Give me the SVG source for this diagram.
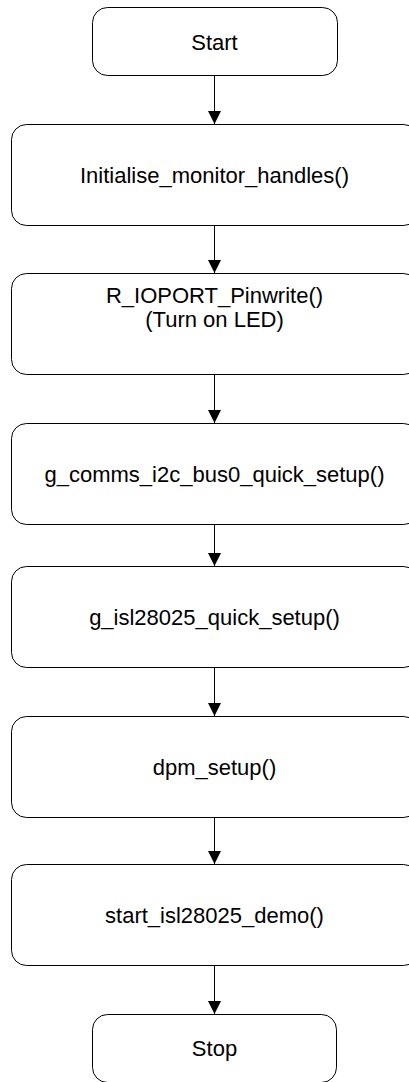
<svg xmlns="http://www.w3.org/2000/svg" width="409" height="1082" viewBox="0 0 409 1082">
<style>
.box{fill:#fff;stroke:#000;stroke-width:1}
.lbl{font-family:"Liberation Sans",Arial,sans-serif;font-size:22px;fill:#000;text-anchor:middle}
.conn{stroke:#000;stroke-width:1;fill:none}
</style>
<defs>
<marker id="arr" markerWidth="14" markerHeight="14" refX="13" refY="7" orient="auto" markerUnits="userSpaceOnUse">
<path d="M0,0.5 L13,7 L0,13.5 Z" fill="#000"/>
</marker>
</defs>
<rect width="409" height="1082" fill="#fff"/>
<g id="start"><rect class="box" x="92.5" y="7.5" width="245" height="68" rx="15"/><text class="lbl" x="214.5" y="50">Start</text></g>
<g id="init"><rect class="box" x="11.5" y="124.5" width="407" height="101" rx="15"/><text class="lbl" x="214.5" y="183">Initialise_monitor_handles()</text></g>
<g id="pinwrite"><rect class="box" x="11.5" y="273.5" width="407" height="101" rx="15"/><text class="lbl" x="214.5" y="303">R_IOPORT_Pinwrite()</text><text class="lbl" x="214.5" y="327">(Turn on LED)</text></g>
<g id="i2c"><rect class="box" x="11.5" y="423.5" width="407" height="101" rx="15"/><text class="lbl" x="214.5" y="481.5">g_comms_i2c_bus0_quick_setup()</text></g>
<g id="isl"><rect class="box" x="11.5" y="566.5" width="407" height="101" rx="15"/><text class="lbl" x="214.5" y="624.5">g_isl28025_quick_setup()</text></g>
<g id="dpm"><rect class="box" x="11.5" y="716.5" width="407" height="101" rx="15"/><text class="lbl" x="214.5" y="774.5">dpm_setup()</text></g>
<g id="demo"><rect class="box" x="11.5" y="864.5" width="407" height="101" rx="15"/><text class="lbl" x="214.5" y="922.5">start_isl28025_demo()</text></g>
<g id="stop"><rect class="box" x="92.5" y="1014.5" width="244" height="68" rx="15"/><text class="lbl" x="214.5" y="1056">Stop</text></g>
<g id="connectors">
<line class="conn" x1="214.5" y1="76" x2="214.5" y2="124" marker-end="url(#arr)"/>
<line class="conn" x1="214.5" y1="226" x2="214.5" y2="273" marker-end="url(#arr)"/>
<line class="conn" x1="214.5" y1="375" x2="214.5" y2="423" marker-end="url(#arr)"/>
<line class="conn" x1="214.5" y1="525" x2="214.5" y2="566" marker-end="url(#arr)"/>
<line class="conn" x1="214.5" y1="668" x2="214.5" y2="716" marker-end="url(#arr)"/>
<line class="conn" x1="214.5" y1="818" x2="214.5" y2="864" marker-end="url(#arr)"/>
<line class="conn" x1="214.5" y1="966" x2="214.5" y2="1014" marker-end="url(#arr)"/>
</g>
</svg>
